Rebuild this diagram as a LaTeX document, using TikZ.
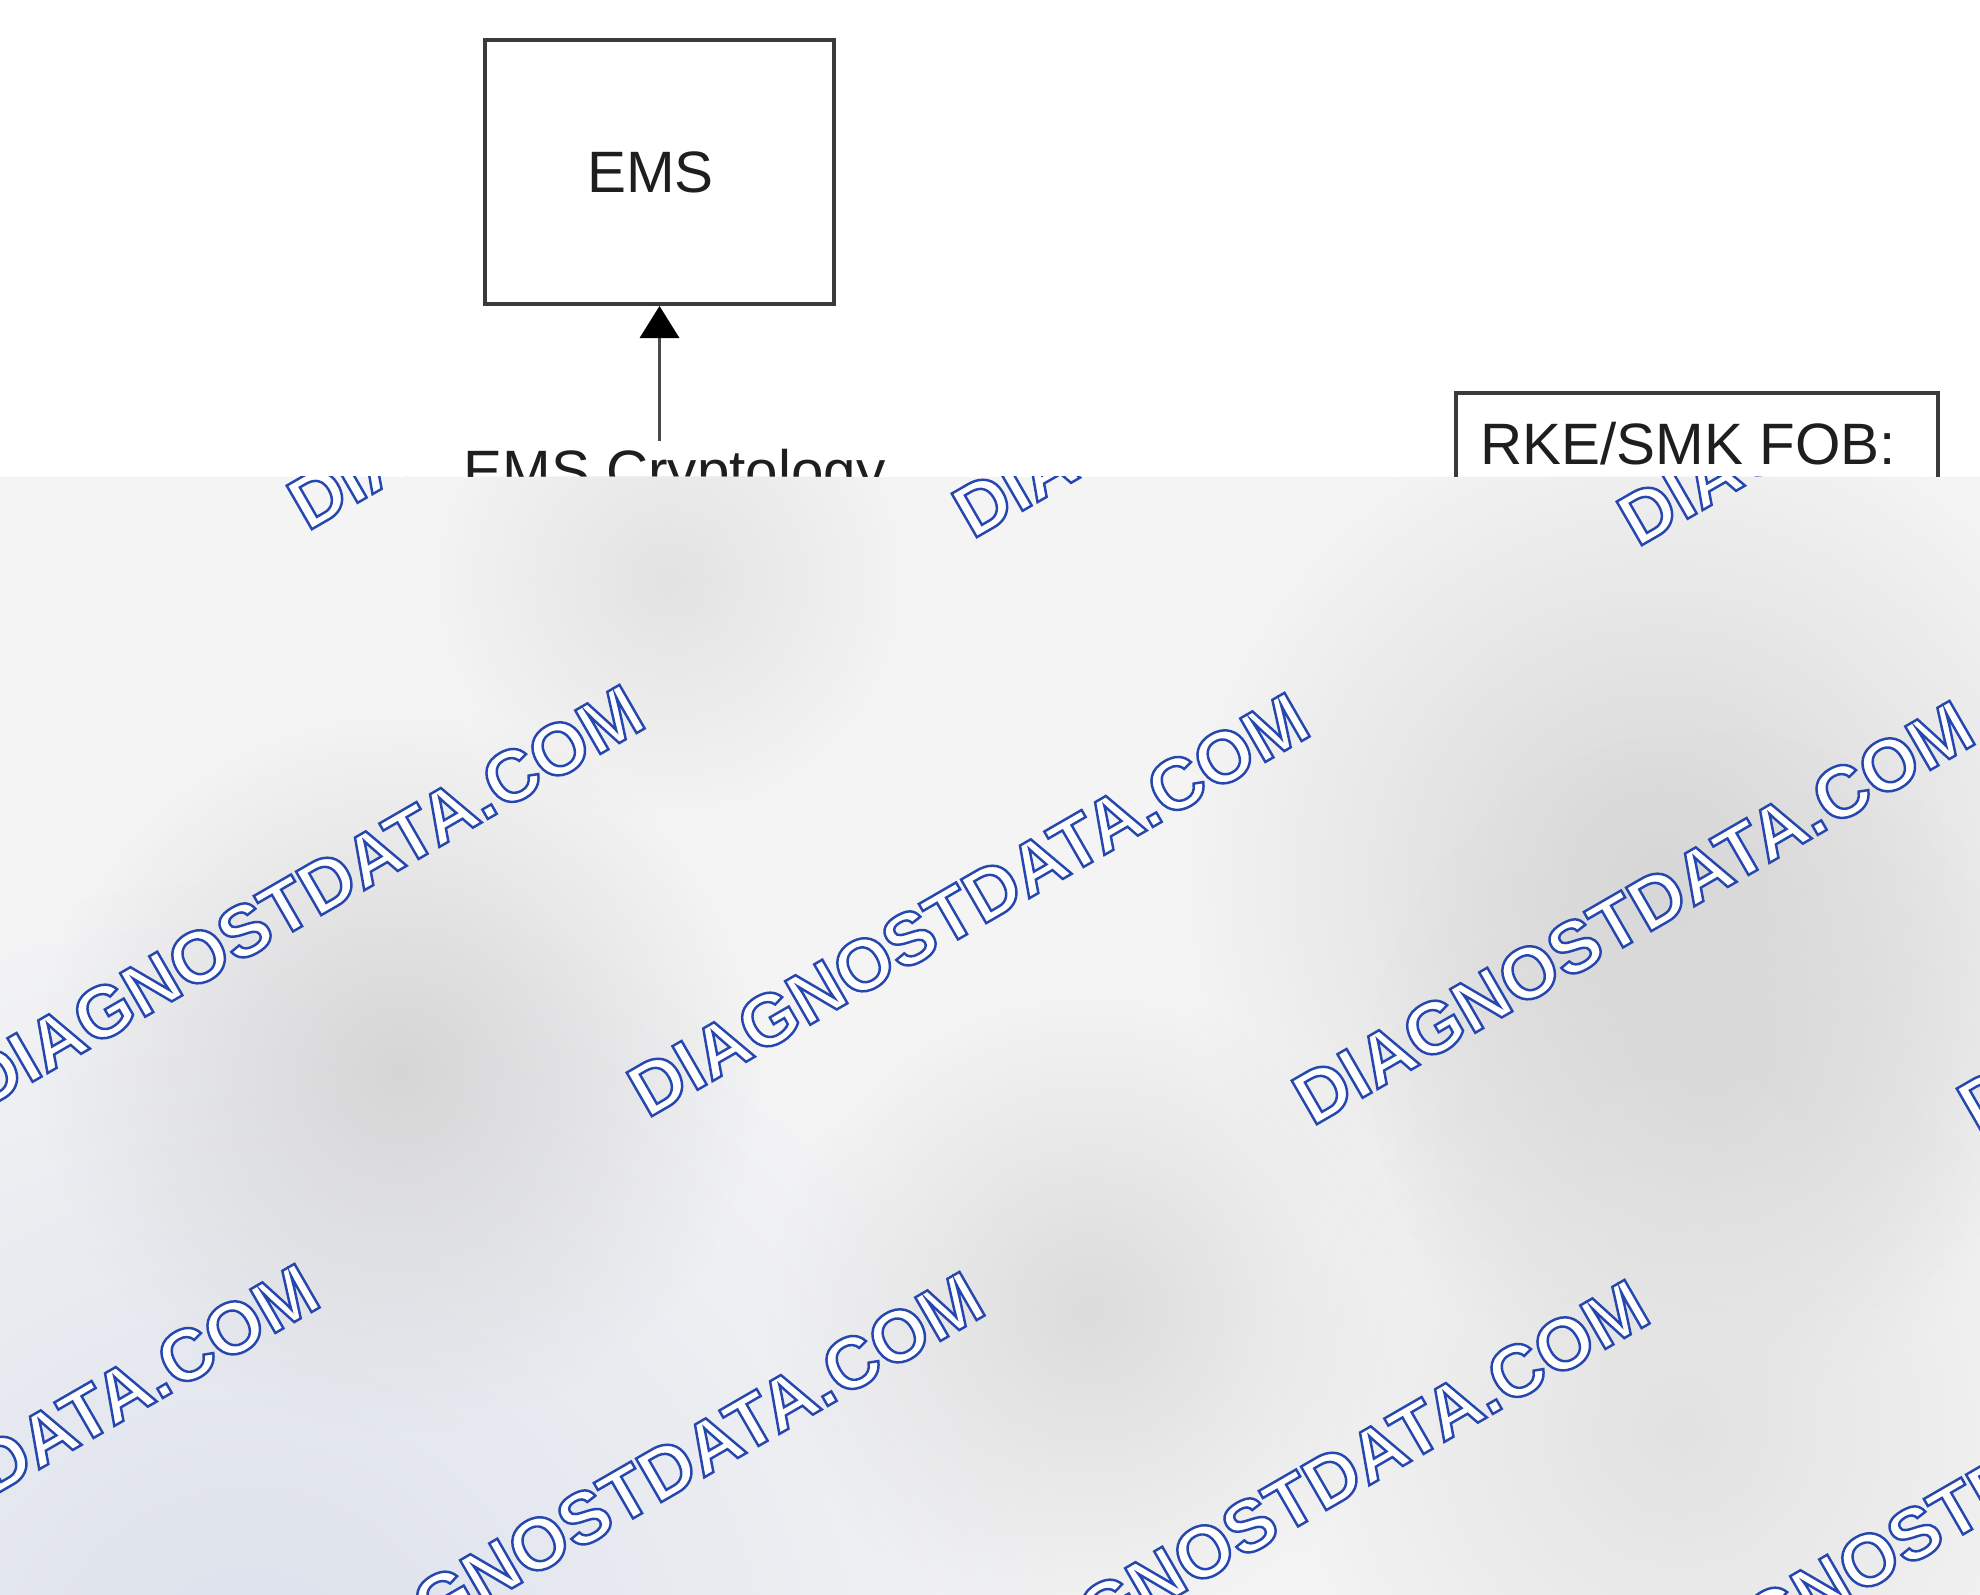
\documentclass[tikz,border=0pt]{standalone}
\usepackage{fontspec}
\setmainfont{Liberation Sans}
\usetikzlibrary{arrows.meta,fadings}

\definecolor{frame}{HTML}{3A3A3A}
\definecolor{shaft}{HTML}{4A4A4A}
\definecolor{ink}{HTML}{1E1E1E}
\definecolor{veil}{HTML}{F4F4F5}
\definecolor{smudge}{HTML}{D6D6D7}
\definecolor{tint}{HTML}{DCE1EC}

% hollow letters: white fill, blue stroke
\newcommand{\hollow}{\special{pdf:code 2 Tr 0.7 w 0.15 0.28 0.69 RG}}

\tikzfading[name=blob, inner color=transparent!0, outer color=transparent!100]

\begin{document}
\begin{tikzpicture}[
  x=0.01cm, y=-0.01cm,
  block/.style={rectangle, draw=frame, line width=1.1pt, inner sep=0pt},
  caption/.style={font=\fontsize{16.6}{20}\selectfont, text=ink, inner sep=0pt},
  watermark/.style={font=\fontsize{20.8}{24}\selectfont\bfseries, text=white, inner sep=0pt, rotate=30, anchor=base west}
]
\useasboundingbox (0,0) rectangle (1980,1595);
\fill[white] (0,0) rectangle (1980,1595);

% visible part of the diagram
\node[block, caption, minimum width=3.49cm, minimum height=2.64cm] (ems) at (659.5,172) {EMS\kern0.18cm};
\node[caption, anchor=base west] (crypto) at (463,492) {EMS Cryptology};
\node[block, minimum width=4.82cm, minimum height=2.4cm, anchor=north west] (fob) at (1454,391) {};
\node[caption, anchor=base west] (fobtitle) at (1480,465) {RKE/SMK FOB:};

\coordinate (tail) at (ems.south |- crypto.north);
\draw[-{Triangle[width=0.39cm,length=0.32cm,color=black]}, shaft, line width=1pt] ([yshift=0.08cm]tail) -- (ems.south);

% blurred lower part
\begin{scope}
  \clip (0,477) rectangle (1980,1595);
  \fill[veil] (0,477) rectangle (1980,1595);
  \fill[tint, path fading=blob] (250,1700) circle [radius={820*0.01cm}];
  \foreach \cx/\cy/\r/\tone in {400/1070/360/100, 669/580/240/55, 1090/1310/320/80,
                                1660/880/480/100, 1710/1070/340/90, 1680/1430/400/60}
    \fill[smudge!\tone!veil, path fading=blob] (\cx,\cy) circle [radius={\r*0.01cm}];
  \foreach \row in {0,1,2}
    \foreach \col in {0,...,4}
      \node[watermark] (mark-\row-\col) at ({307+665*(\col-1)-325*\row},{532+8*(\col-1)+579*\row}) {\hollow DIAGNOSTDATA.COM};
\end{scope}
\end{tikzpicture}
\end{document}
